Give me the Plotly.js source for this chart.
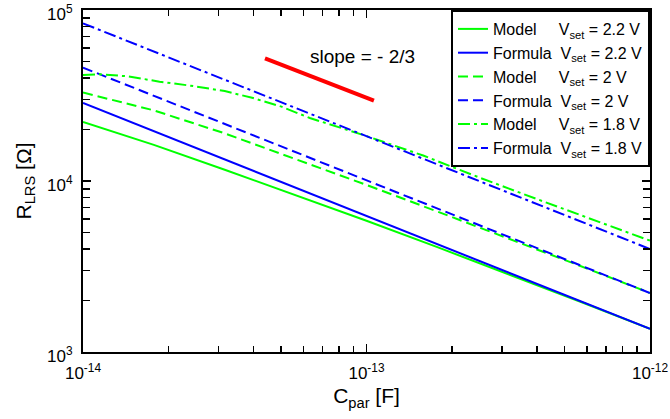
<!DOCTYPE html>
<html>
<head>
<meta charset="utf-8">
<script src="https://cdn.plot.ly/plotly-3.0.1.min.js"></script>
<style>html,body{margin:0;padding:0;background:#fff;}#chart{width:670px;height:419px;}</style>
</head>
<body>
<div id="chart"></div>
<script>
// Parasitic capacitance C_par [F]
const cFormula = [1e-14, 1e-13, 1e-12];
const cModel = [1e-14, 1.778e-14, 3.162e-14, 5.623e-14, 1e-13, 1.778e-13, 3.162e-13, 5.623e-13, 1e-12];
const cModel18 = [1e-14, 1.148e-14, 1.445e-14, 1.862e-14, 2.399e-14, 3.162e-14, 3.981e-14, 5.012e-14, 6.310e-14, 1e-13, 1.585e-13, 2.512e-13, 3.981e-13, 6.310e-13, 1e-12];

// R_LRS [Ohm]
const formula22 = [28580, 6246, 1365];
const model22 = [22130, 16255, 11641, 8260, 5853, 4102, 2858, 1982, 1365];
const formula20 = [46030, 10090, 2213];
const model20 = [32890, 25880, 18990, 13460, 9484, 6630, 4618, 3206, 2213];
const formula18 = [83560, 18280, 4000];
const model18 = [41690, 42070, 40930, 38090, 36080, 33570, 30550, 27210, 23350, 18320, 14090, 10450, 7850, 5940, 4480];

// slope = -2/3 guide line
const slopeC = [4.385e-14, 1.062e-13];
const slopeR = [52190, 29480];

const names = [
  'Model\u00A0\u00A0\u00A0\u00A0\u00A0V<sub>set</sub> = 2.2 V',
  'Formula\u00A0\u00A0V<sub>set</sub> = 2.2 V',
  'Model\u00A0\u00A0\u00A0\u00A0\u00A0V<sub>set</sub> = 2 V',
  'Formula\u00A0\u00A0V<sub>set</sub> = 2 V',
  'Model\u00A0\u00A0\u00A0\u00A0\u00A0V<sub>set</sub> = 1.8 V',
  'Formula\u00A0\u00A0V<sub>set</sub> = 1.8 V'
];

const decX = [1e-14, 1e-13, 1e-12];
const decXText = ['10<sup>-14</sup>', '10<sup>-13</sup>', '10<sup>-12</sup>'];
const decY = [1e3, 1e4, 1e5];
const decYText = ['10<sup>3</sup>', '10<sup>4</sup>', '10<sup>5</sup>'];

function minorVals(lo, hi) {
  const out = [];
  for (let e = lo; e < hi; e++) for (let m = 2; m <= 9; m++) out.push(m * Math.pow(10, e));
  return out;
}

const GREEN = '#00ff00', BLUE = '#0000ff';
const DASH = '10px,5px', DASHDOT = '12px,4px,3px,4px';

const traces = [
  {x: cModel, y: model22, name: names[0], line: {color: GREEN, width: 2}},
  {x: cFormula, y: formula22, name: names[1], line: {color: BLUE, width: 2}},
  {x: cModel, y: model20, name: names[2], line: {color: GREEN, width: 2, dash: DASH}},
  {x: cFormula, y: formula20, name: names[3], line: {color: BLUE, width: 2, dash: DASH}},
  {x: cModel18, y: model18, name: names[4], line: {color: GREEN, width: 2, dash: DASHDOT}},
  {x: cFormula, y: formula18, name: names[5], line: {color: BLUE, width: 2, dash: DASHDOT}},
  {x: slopeC, y: slopeR, showlegend: false, xaxis: 'x2', yaxis: 'y2', line: {color: '#ff0000', width: 4}}
].map(t => Object.assign({type: 'scatter', mode: 'lines', hoverinfo: 'skip'}, t));

const FONT = 'Liberation Sans, Arial, sans-serif';
const XR = [-14, -12], YR = [3, 5];

function baseAxis(range, majors, majorText, minors, minorLen) {
  return {
    type: 'log', range: range,
    showline: true, linecolor: '#000', linewidth: 2,
    showgrid: false, zeroline: false,
    tickmode: 'array', tickvals: majors, ticktext: majorText,
    ticks: 'inside', ticklen: 8, tickwidth: 1.5, tickcolor: '#000',
    minor: {tickmode: 'array', tickvals: minors, ticks: 'inside', ticklen: minorLen, tickwidth: 1.5, tickcolor: '#000', showgrid: false},
    tickfont: {family: FONT, size: 17, color: '#000'},
    ticklabeloverflow: 'allow'
  };
}

const xaxis = Object.assign(baseAxis(XR, decX, decXText, minorVals(-14, -12), 6), {
  ticklabelstandoff: 5,
  title: {text: 'C<sub>par</sub> [F]', font: {family: FONT, size: 21}, standoff: 6}
});
const yaxis = Object.assign(baseAxis(YR, decY, decYText, minorVals(3, 5), 7), {
  ticklabelstandoff: 5,
  ticklabelshift: 4,
  title: {text: 'R<sub>LRS</sub> [\u03A9]', font: {family: FONT, size: 21}, standoff: 10}
});
const xaxis2 = Object.assign(baseAxis(XR, decX, decXText, minorVals(-14, -12), 6), {
  overlaying: 'x', side: 'top', anchor: 'y', showticklabels: false
});
const yaxis2 = Object.assign(baseAxis(YR, decY, decYText, minorVals(3, 5), 7), {
  overlaying: 'y', side: 'right', anchor: 'x', showticklabels: false
});

const layout = {
  width: 670, height: 419,
  margin: {l: 83, r: 20, t: 10, b: 67},
  paper_bgcolor: '#fff', plot_bgcolor: '#fff',
  font: {family: FONT, color: '#000', size: 16},
  showlegend: true,
  legend: {
    x: 1, xanchor: 'right', y: 1, yanchor: 'top',
    bgcolor: '#fff', bordercolor: '#000', borderwidth: 2,
    font: {family: FONT, size: 16, color: '#000'},
    tracegroupgap: 0, itemwidth: 30
  },
  xaxis: xaxis, yaxis: yaxis, xaxis2: xaxis2, yaxis2: yaxis2,
  annotations: [{
    xref: 'paper', yref: 'paper', x: 0.493, y: 0.863,
    xanchor: 'center', yanchor: 'middle', showarrow: false,
    text: 'slope = - 2/3', font: {family: FONT, size: 19, color: '#000'}
  }]
};

Plotly.newPlot('chart', traces, layout, {displayModeBar: false, staticPlot: true});
</script>
</body>
</html>
